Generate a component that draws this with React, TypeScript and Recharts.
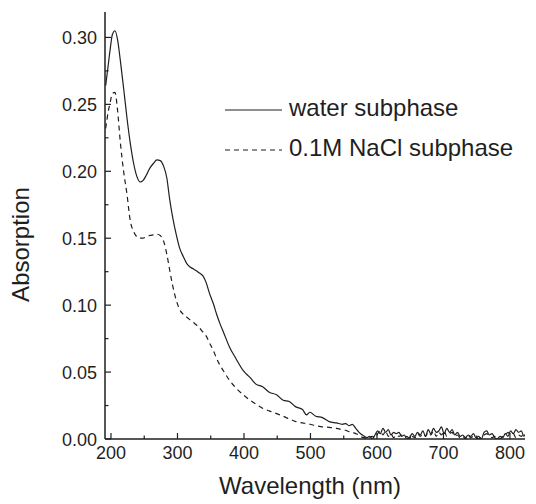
import { Legend, Line, LineChart, XAxis, YAxis } from "recharts";

// wavelength (nm) of every sample; main band first, then the noisy tail
const wavelengths = [
  192, 196, 199, 202, 206, 210, 214, 219, 224, 229, 234, 239, 244, 248, 253, 258, 264, 269, 274, 279,
  284, 288, 293, 298, 303, 309, 314, 319, 324, 329, 333, 338, 343, 348, 354, 359, 364, 369, 378, 388,
  399, 409, 418, 428, 438, 449, 459, 468, 478, 488, 494, 499, 508, 518, 528, 539, 548, 553, 558, 563,
  568, 573, 578,
  581, 585, 589, 593, 597, 601, 605, 609, 613, 617, 621, 625, 629, 633, 637, 641, 645, 649, 653, 657,
  661, 665, 669, 673, 677, 681, 685, 689, 693, 697, 701, 705, 709, 713, 717, 721, 725, 729, 733, 737,
  741, 745, 749, 753, 757, 761, 765, 769, 773, 777, 781, 785, 789, 793, 797, 801, 805, 809, 813, 817,
  821, 825, 829,
];

const waterSubphase = [
  0.264, 0.28, 0.292, 0.302, 0.305, 0.298, 0.283, 0.262, 0.24, 0.221, 0.206, 0.196, 0.192, 0.193, 0.197, 0.202, 0.206, 0.2085, 0.208, 0.204,
  0.195, 0.18, 0.165, 0.153, 0.143, 0.136, 0.131, 0.1285, 0.127, 0.1255, 0.124, 0.122, 0.117, 0.109, 0.101, 0.093, 0.086, 0.08, 0.069, 0.06,
  0.051, 0.046, 0.041, 0.039, 0.035, 0.033, 0.029, 0.028, 0.024, 0.022, 0.018, 0.02, 0.017, 0.016, 0.013, 0.012, 0.011, 0.0115, 0.01, 0.011,
  0.008, 0.005, 0.003,
  0.002, 0.001, 0.002, 0.0, 0.003, 0.006, 0.004, 0.008, 0.005, 0.007, 0.003, 0.005, 0.004, 0.005, 0.002, 0.003, 0.0, 0.001, 0.004, 0.002,
  0.005, 0.003, 0.006, 0.002, 0.007, 0.004, 0.008, 0.005, 0.006, 0.009, 0.004, 0.008, 0.005, 0.007, 0.003, 0.005, 0.002, 0.003, 0.001, 0.003,
  0.002, 0.004, 0.001, 0.002, 0.0, 0.005, 0.006, 0.003, 0.004, 0.001, 0.0, 0.002, 0.001, 0.004, 0.002, 0.006, 0.004, 0.007, 0.005, 0.006,
  0.002, 0.005, 0.003,
];

const naclSubphase = [
  0.232, 0.245, 0.252, 0.258, 0.259, 0.245, 0.222, 0.2, 0.183, 0.163, 0.155, 0.151, 0.15, 0.15, 0.151, 0.152, 0.1525, 0.153, 0.152, 0.148,
  0.138, 0.127, 0.114, 0.104, 0.097, 0.093, 0.091, 0.089, 0.087, 0.085, 0.083, 0.08, 0.077, 0.072, 0.066, 0.06, 0.055, 0.051, 0.044, 0.038,
  0.033, 0.029, 0.026, 0.023, 0.021, 0.019, 0.017, 0.015, 0.013, 0.012, 0.0115, 0.011, 0.01, 0.009, 0.0087, 0.008, 0.007, 0.0065, 0.0055, 0.005,
  0.004, 0.003, 0.0012,
  0.001, 0.0, 0.001, 0.002, 0.001, 0.004, 0.006, 0.003, 0.006, 0.002, 0.004, 0.001, 0.003, 0.002, 0.003, 0.001, 0.002, 0.0, 0.002, 0.001,
  0.004, 0.002, 0.004, 0.002, 0.005, 0.003, 0.006, 0.002, 0.005, 0.003, 0.006, 0.002, 0.004, 0.005, 0.002, 0.003, 0.001, 0.002, 0.0, 0.003,
  0.001, 0.002, 0.001, 0.0, 0.002, 0.003, 0.004, 0.002, 0.001, 0.002, 0.001, 0.0, 0.002, 0.003, 0.005, 0.003, 0.004, 0.001, 0.003, 0.002,
  0.004, 0.002, 0.001,
];

const seriesNames = ["water subphase", "0.1M NaCl subphase"];
const xTicks = [200, 250, 300, 350, 400, 450, 500, 550, 600, 650, 700, 750, 800];
const yTicks = [0, 0.025, 0.05, 0.075, 0.1, 0.125, 0.15, 0.175, 0.2, 0.225, 0.25, 0.275, 0.3];

const data = wavelengths.map((nm, i) => ({
  nm,
  water: waterSubphase[i],
  nacl: naclSubphase[i],
}));

const FONT = '"Liberation Sans", Arial, Helvetica, sans-serif';
const INK = "#1f1f1f";
const X_DOMAIN: [number, number] = [191, 822.6];
const Y_DOMAIN: [number, number] = [0, 0.319];

function XTick(props: any) {
  const { x, y, payload } = props;
  const major = payload.value % 100 === 0;
  return (
    <g>
      <line x1={x} x2={x} y1={y} y2={y - (major ? 6 : 3.5)} stroke={INK} strokeWidth={1.2} />
      {major && (
        <text x={x} y={y + 20} textAnchor="middle" fontSize={18} fontFamily={FONT} fill={INK}>
          {payload.value}
        </text>
      )}
    </g>
  );
}

function YTick(props: any) {
  const { x, y, payload } = props;
  const major = Math.round(payload.value * 1000) % 50 === 0;
  return (
    <g>
      <line x1={x} x2={x + (major ? 6 : 3.5)} y1={y} y2={y} stroke={INK} strokeWidth={1.2} />
      {major && (
        <text x={x - 8} y={y + 6.5} textAnchor="end" fontSize={18} fontFamily={FONT} fill={INK}>
          {payload.value.toFixed(2)}
        </text>
      )}
    </g>
  );
}

function YTitle({ viewBox }: any) {
  const x = viewBox.x + 21;
  const y = viewBox.y + viewBox.height / 2 + 19;
  return (
    <text x={x} y={y} transform={`rotate(-90, ${x}, ${y})`} textAnchor="middle" fontSize={24} fontFamily={FONT} fill={INK}>
      Absorption
    </text>
  );
}

function XTitle({ viewBox }: any) {
  const x = viewBox.x + viewBox.width / 2 - 5;
  const y = viewBox.y + 55;
  return (
    <text x={x} y={y} textAnchor="middle" fontSize={24} fontFamily={FONT} fill={INK}>
      Wavelength (nm)
    </text>
  );
}

function LegendBox({ payload }: any) {
  const items = [...(payload ?? [])].sort(
    (a: any, b: any) => seriesNames.indexOf(a.value) - seriesNames.indexOf(b.value)
  );
  return (
    <div style={{ fontFamily: FONT, fontSize: 24, color: INK }}>
      {items.map((entry: any) => (
        <div key={entry.value} style={{ display: "flex", alignItems: "center", height: 40 }}>
          <svg width={57} height={40}>
            <line
              x1={0}
              x2={57}
              y1={20}
              y2={20}
              stroke={INK}
              strokeWidth={1.2}
              strokeDasharray={entry.payload?.strokeDasharray}
            />
          </svg>
          <span style={{ marginLeft: 7, lineHeight: "40px", position: "relative", top: -2, whiteSpace: "nowrap" }}>
            {entry.value}
          </span>
        </div>
      ))}
    </div>
  );
}

export default function App() {
  return (
    <LineChart width={528} height={496} data={data} margin={{ top: 4, right: 11, bottom: 0, left: 0 }}>
      <XAxis
        xAxisId="bottom"
        dataKey="nm"
        type="number"
        domain={X_DOMAIN}
        allowDataOverflow
        ticks={xTicks}
        interval={0}
        tickSize={0}
        tickMargin={0}
        tick={<XTick />}
        height={65}
        stroke={INK}
        strokeWidth={1.5}
        label={<XTitle />}
      />
      <XAxis xAxisId="top" orientation="top" dataKey="nm" type="number" domain={X_DOMAIN} allowDataOverflow tick={false} tickLine={false} height={0} stroke={INK} strokeWidth={1.5} />
      <YAxis
        yAxisId="left"
        type="number"
        domain={Y_DOMAIN}
        allowDataOverflow
        ticks={yTicks}
        interval={0}
        tickSize={0}
        tickMargin={0}
        tick={<YTick />}
        width={97}
        stroke={INK}
        strokeWidth={1.5}
        label={<YTitle />}
      />
      <YAxis yAxisId="right" orientation="right" type="number" domain={Y_DOMAIN} allowDataOverflow tick={false} tickLine={false} width={0} stroke={INK} strokeWidth={1.5} />
      <Legend
        layout="vertical"
        align="center"
        verticalAlign="middle"
        content={<LegendBox />}
        wrapperStyle={{ left: 217, top: 82, width: "auto" }}
      />
      <Line
        xAxisId="bottom"
        yAxisId="left"
        type="monotone"
        dataKey="water"
        name={seriesNames[0]}
        stroke={INK}
        strokeWidth={1.2}
        dot={false}
        isAnimationActive={false}
      />
      <Line
        xAxisId="bottom"
        yAxisId="left"
        type="monotone"
        dataKey="nacl"
        name={seriesNames[1]}
        stroke={INK}
        strokeWidth={1.2}
        strokeDasharray="5 4"
        dot={false}
        isAnimationActive={false}
      />
    </LineChart>
  );
}
